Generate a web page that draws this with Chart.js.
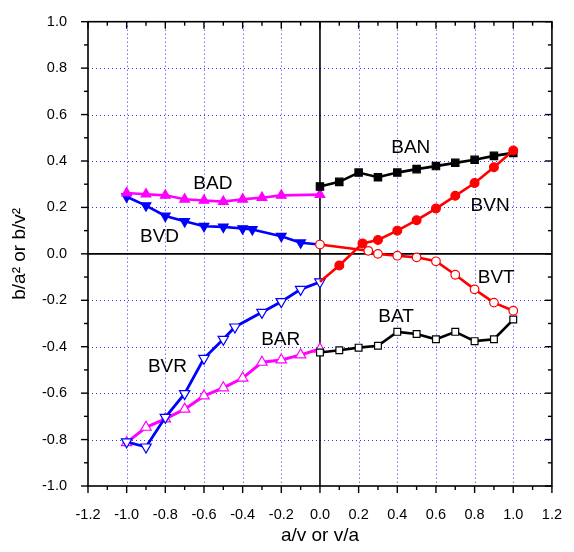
<!DOCTYPE html>
<html>
<head>
<meta charset="utf-8">
<script src="https://cdn.jsdelivr.net/npm/chart.js@4.4.1/dist/chart.umd.min.js"></script>
<style>
  html, body { margin: 0; padding: 0; background: #fff; }
  #wrap { width: 574px; height: 552px; }
</style>
</head>
<body>
<div id="wrap"><canvas id="grafico"></canvas></div>
<script>
// ejes
const xTicks = [-1.2, -1.0, -0.8, -0.6, -0.4, -0.2, 0.0, 0.2, 0.4, 0.6, 0.8, 1.0, 1.2];
const yTicks = [-1.0, -0.8, -0.6, -0.4, -0.2, 0.0, 0.2, 0.4, 0.6, 0.8, 1.0];

// series
const banX = [0, 0.1, 0.2, 0.3, 0.4, 0.5, 0.6, 0.7, 0.8, 0.9, 1.0];
const banY = [0.29, 0.31, 0.35, 0.33, 0.35, 0.365, 0.378, 0.392, 0.405, 0.422, 0.435];

const bvnX = [0, 0.1, 0.22, 0.3, 0.4, 0.5, 0.6, 0.7, 0.8, 0.9, 1.0];
const bvnY = [-0.12, -0.05, 0.045, 0.06, 0.10, 0.145, 0.195, 0.25, 0.305, 0.373, 0.445];

const bvtX = [0, 0.25, 0.3, 0.4, 0.5, 0.6, 0.7, 0.8, 0.9, 1.0];
const bvtY = [0.04, 0.013, 0.0, -0.008, -0.015, -0.032, -0.09, -0.153, -0.21, -0.245];

const batX = [0, 0.1, 0.2, 0.3, 0.4, 0.5, 0.6, 0.7, 0.8, 0.9, 1.0];
const batY = [-0.425, -0.415, -0.404, -0.396, -0.336, -0.345, -0.368, -0.336, -0.376, -0.368, -0.283];

const badX = [-1.0, -0.9, -0.8, -0.7, -0.6, -0.5, -0.4, -0.3, -0.2, 0];
const badY = [0.262, 0.257, 0.252, 0.235, 0.23, 0.225, 0.235, 0.242, 0.252, 0.255];

const bvdX = [-1.0, -0.9, -0.8, -0.7, -0.6, -0.5, -0.4, -0.35, -0.2, -0.1, 0];
const bvdY = [0.246, 0.208, 0.163, 0.14, 0.119, 0.116, 0.109, 0.105, 0.076, 0.048, 0.04];

const bvrX = [-1.0, -0.9, -0.8, -0.7, -0.6, -0.5, -0.44, -0.3, -0.2, -0.1, 0];
const bvrY = [-0.81, -0.832, -0.704, -0.602, -0.45, -0.368, -0.315, -0.252, -0.206, -0.153, -0.121];

const barX = [-1.0, -0.9, -0.8, -0.7, -0.6, -0.5, -0.4, -0.3, -0.2, -0.1, 0];
const barY = [-0.813, -0.747, -0.711, -0.669, -0.612, -0.577, -0.535, -0.467, -0.457, -0.435, -0.41];

// etiquetas de las series
const etiquetas = [
  { texto: 'BAN', x: 0.47, y: 0.457 },
  { texto: 'BVN', x: 0.88, y: 0.208 },
  { texto: 'BAD', x: -0.554, y: 0.30 },
  { texto: 'BVD', x: -0.83, y: 0.074 },
  { texto: 'BVR', x: -0.789, y: -0.485 },
  { texto: 'BAR', x: -0.203, y: -0.372 },
  { texto: 'BVT', x: 0.912, y: -0.103 },
  { texto: 'BAT', x: 0.394, y: -0.269 }
];

const FUENTE = '"Liberation Sans", Arial, sans-serif';

function puntos(xs, ys) {
  return xs.map((v, i) => ({ x: v, y: ys[i] }));
}

function serie(label, xs, ys, color, estilo) {
  return Object.assign({
    label: label,
    data: puntos(xs, ys),
    showLine: true,
    borderColor: color,
    backgroundColor: color,
    pointBorderColor: color,
    pointBorderWidth: 1.2,
    borderWidth: 2.6,
    tension: 0
  }, estilo);
}

const datasets = [
  serie('BVN', bvnX, bvnY, '#ff0000', {
    pointStyle: 'circle', pointRadius: bvnX.map((v, i) => i === 0 ? 0 : 4.4)
  }),
  serie('BVT', bvtX, bvtY, '#ff0000', {
    pointStyle: 'circle', pointRadius: 4.3, backgroundColor: '#ffffff', pointBackgroundColor: '#ffffff'
  }),
  serie('BAN', banX, banY, '#000000', {
    pointStyle: 'rect', pointRadius: 5.2
  }),
  serie('BAT', batX, batY, '#000000', {
    pointStyle: 'rect', pointRadius: 4.8, pointBackgroundColor: '#ffffff'
  }),
  serie('BAD', badX, badY, '#ff00ff', {
    pointStyle: 'triangle', pointRadius: 5.6
  }),
  serie('BVD', bvdX, bvdY, '#0000ff', {
    pointStyle: 'triangle', pointRotation: 180,
    pointRadius: bvdX.map((v, i) => i === bvdX.length - 1 ? 0 : 5.6)
  }),
  serie('BVR', bvrX, bvrY, '#0000ff', {
    pointStyle: 'triangle', pointRotation: 180, pointRadius: 6,
    pointBackgroundColor: '#ffffff', borderWidth: 2.8
  }),
  serie('BAR', barX, barY, '#ff00ff', {
    pointStyle: 'triangle', pointRadius: 6, pointBackgroundColor: '#ffffff',
    borderWidth: 3
  })
];

// marco, rejilla, ejes en cero, marcas y etiquetas
const marco = {
  id: 'marco',
  beforeDatasetsDraw(chart) {
    const { ctx, chartArea: a, scales: { x, y } } = chart;
    ctx.save();
    ctx.strokeStyle = '#3030ff';
    ctx.lineWidth = 1;
    ctx.setLineDash([1, 3]);
    xTicks.forEach(v => {
      if (Math.abs(v) >= 1.2 || v === 0) return;
      const px = Math.round(x.getPixelForValue(v)) + 0.5;
      ctx.beginPath(); ctx.moveTo(px, a.top); ctx.lineTo(px, a.bottom); ctx.stroke();
    });
    yTicks.forEach(v => {
      if (Math.abs(v) >= 1.0 || v === 0) return;
      const py = Math.round(y.getPixelForValue(v)) + 0.5;
      ctx.beginPath(); ctx.moveTo(a.left, py); ctx.lineTo(a.right, py); ctx.stroke();
    });
    ctx.setLineDash([]);
    ctx.strokeStyle = '#000';
    ctx.lineWidth = 1.6;
    const x0 = x.getPixelForValue(0), y0 = y.getPixelForValue(0);
    ctx.beginPath(); ctx.moveTo(x0, a.top); ctx.lineTo(x0, a.bottom); ctx.stroke();
    ctx.beginPath(); ctx.moveTo(a.left, y0); ctx.lineTo(a.right, y0); ctx.stroke();
    ctx.restore();
  },
  afterDraw(chart) {
    const { ctx, chartArea: a, scales: { x, y } } = chart;
    ctx.save();
    ctx.strokeStyle = '#000';
    ctx.lineWidth = 1.6;
    ctx.strokeRect(a.left, a.top, a.right - a.left, a.bottom - a.top);
    ctx.lineWidth = 1.4;
    // marcas cada 0.1
    for (let i = -12; i <= 12; i++) {
      const px = x.getPixelForValue(i / 10);
      const largo = i % 2 === 0 ? 7 : 4;
      ctx.beginPath(); ctx.moveTo(px, a.bottom); ctx.lineTo(px, a.bottom + largo); ctx.stroke();
      ctx.beginPath(); ctx.moveTo(px, a.top); ctx.lineTo(px, a.top + largo); ctx.stroke();
    }
    for (let i = -10; i <= 10; i++) {
      const py = y.getPixelForValue(i / 10);
      const largo = i % 2 === 0 ? 7 : 4;
      ctx.beginPath(); ctx.moveTo(a.left, py); ctx.lineTo(a.left - largo, py); ctx.stroke();
      ctx.beginPath(); ctx.moveTo(a.right, py); ctx.lineTo(a.right - largo, py); ctx.stroke();
    }
    // etiquetas de series
    ctx.fillStyle = '#000';
    ctx.font = '19px ' + FUENTE;
    ctx.textAlign = 'center';
    ctx.textBaseline = 'middle';
    etiquetas.forEach(e => {
      ctx.fillText(e.texto, x.getPixelForValue(e.x), y.getPixelForValue(e.y));
    });
    ctx.restore();
  }
};

const ctx = document.getElementById('grafico').getContext('2d');
new Chart(ctx, {
  type: 'scatter',
  data: { datasets: datasets },
  options: {
    responsive: true,
    maintainAspectRatio: false,
    animation: false,
    layout: { padding: { top: 15, right: 19, left: 0, bottom: 0 } },
    plugins: { legend: { display: false }, tooltip: { enabled: false } },
    scales: {
      x: {
        type: 'linear', min: -1.2, max: 1.2,
        afterBuildTicks: s => { s.ticks = xTicks.map(v => ({ value: v })); },
        afterFit: s => { s.height = 66; },
        grid: { display: false },
        border: { display: false },
        ticks: {
          color: '#000', padding: 12, maxRotation: 0, autoSkip: false,
          font: { family: FUENTE, size: 14.5 },
          callback: v => Number(v).toFixed(1)
        },
        title: {
          display: true, text: 'a/v or v/a', color: '#000',
          font: { family: FUENTE, size: 19 }, padding: { top: 0, bottom: 5 }
        }
      },
      y: {
        type: 'linear', min: -1.0, max: 1.0,
        afterBuildTicks: s => { s.ticks = yTicks.map(v => ({ value: v })); },
        afterFit: s => { s.width = 88; },
        grid: { display: false },
        border: { display: false },
        ticks: {
          color: '#000', padding: 13, autoSkip: false,
          font: { family: FUENTE, size: 14.5 },
          callback: v => Number(v).toFixed(1)
        },
        title: {
          display: true, text: 'b/a² or b/v²', color: '#000',
          font: { family: FUENTE, size: 19 }, padding: { top: 8, bottom: 0 }
        }
      }
    }
  },
  plugins: [marco]
});
</script>
</body>
</html>
